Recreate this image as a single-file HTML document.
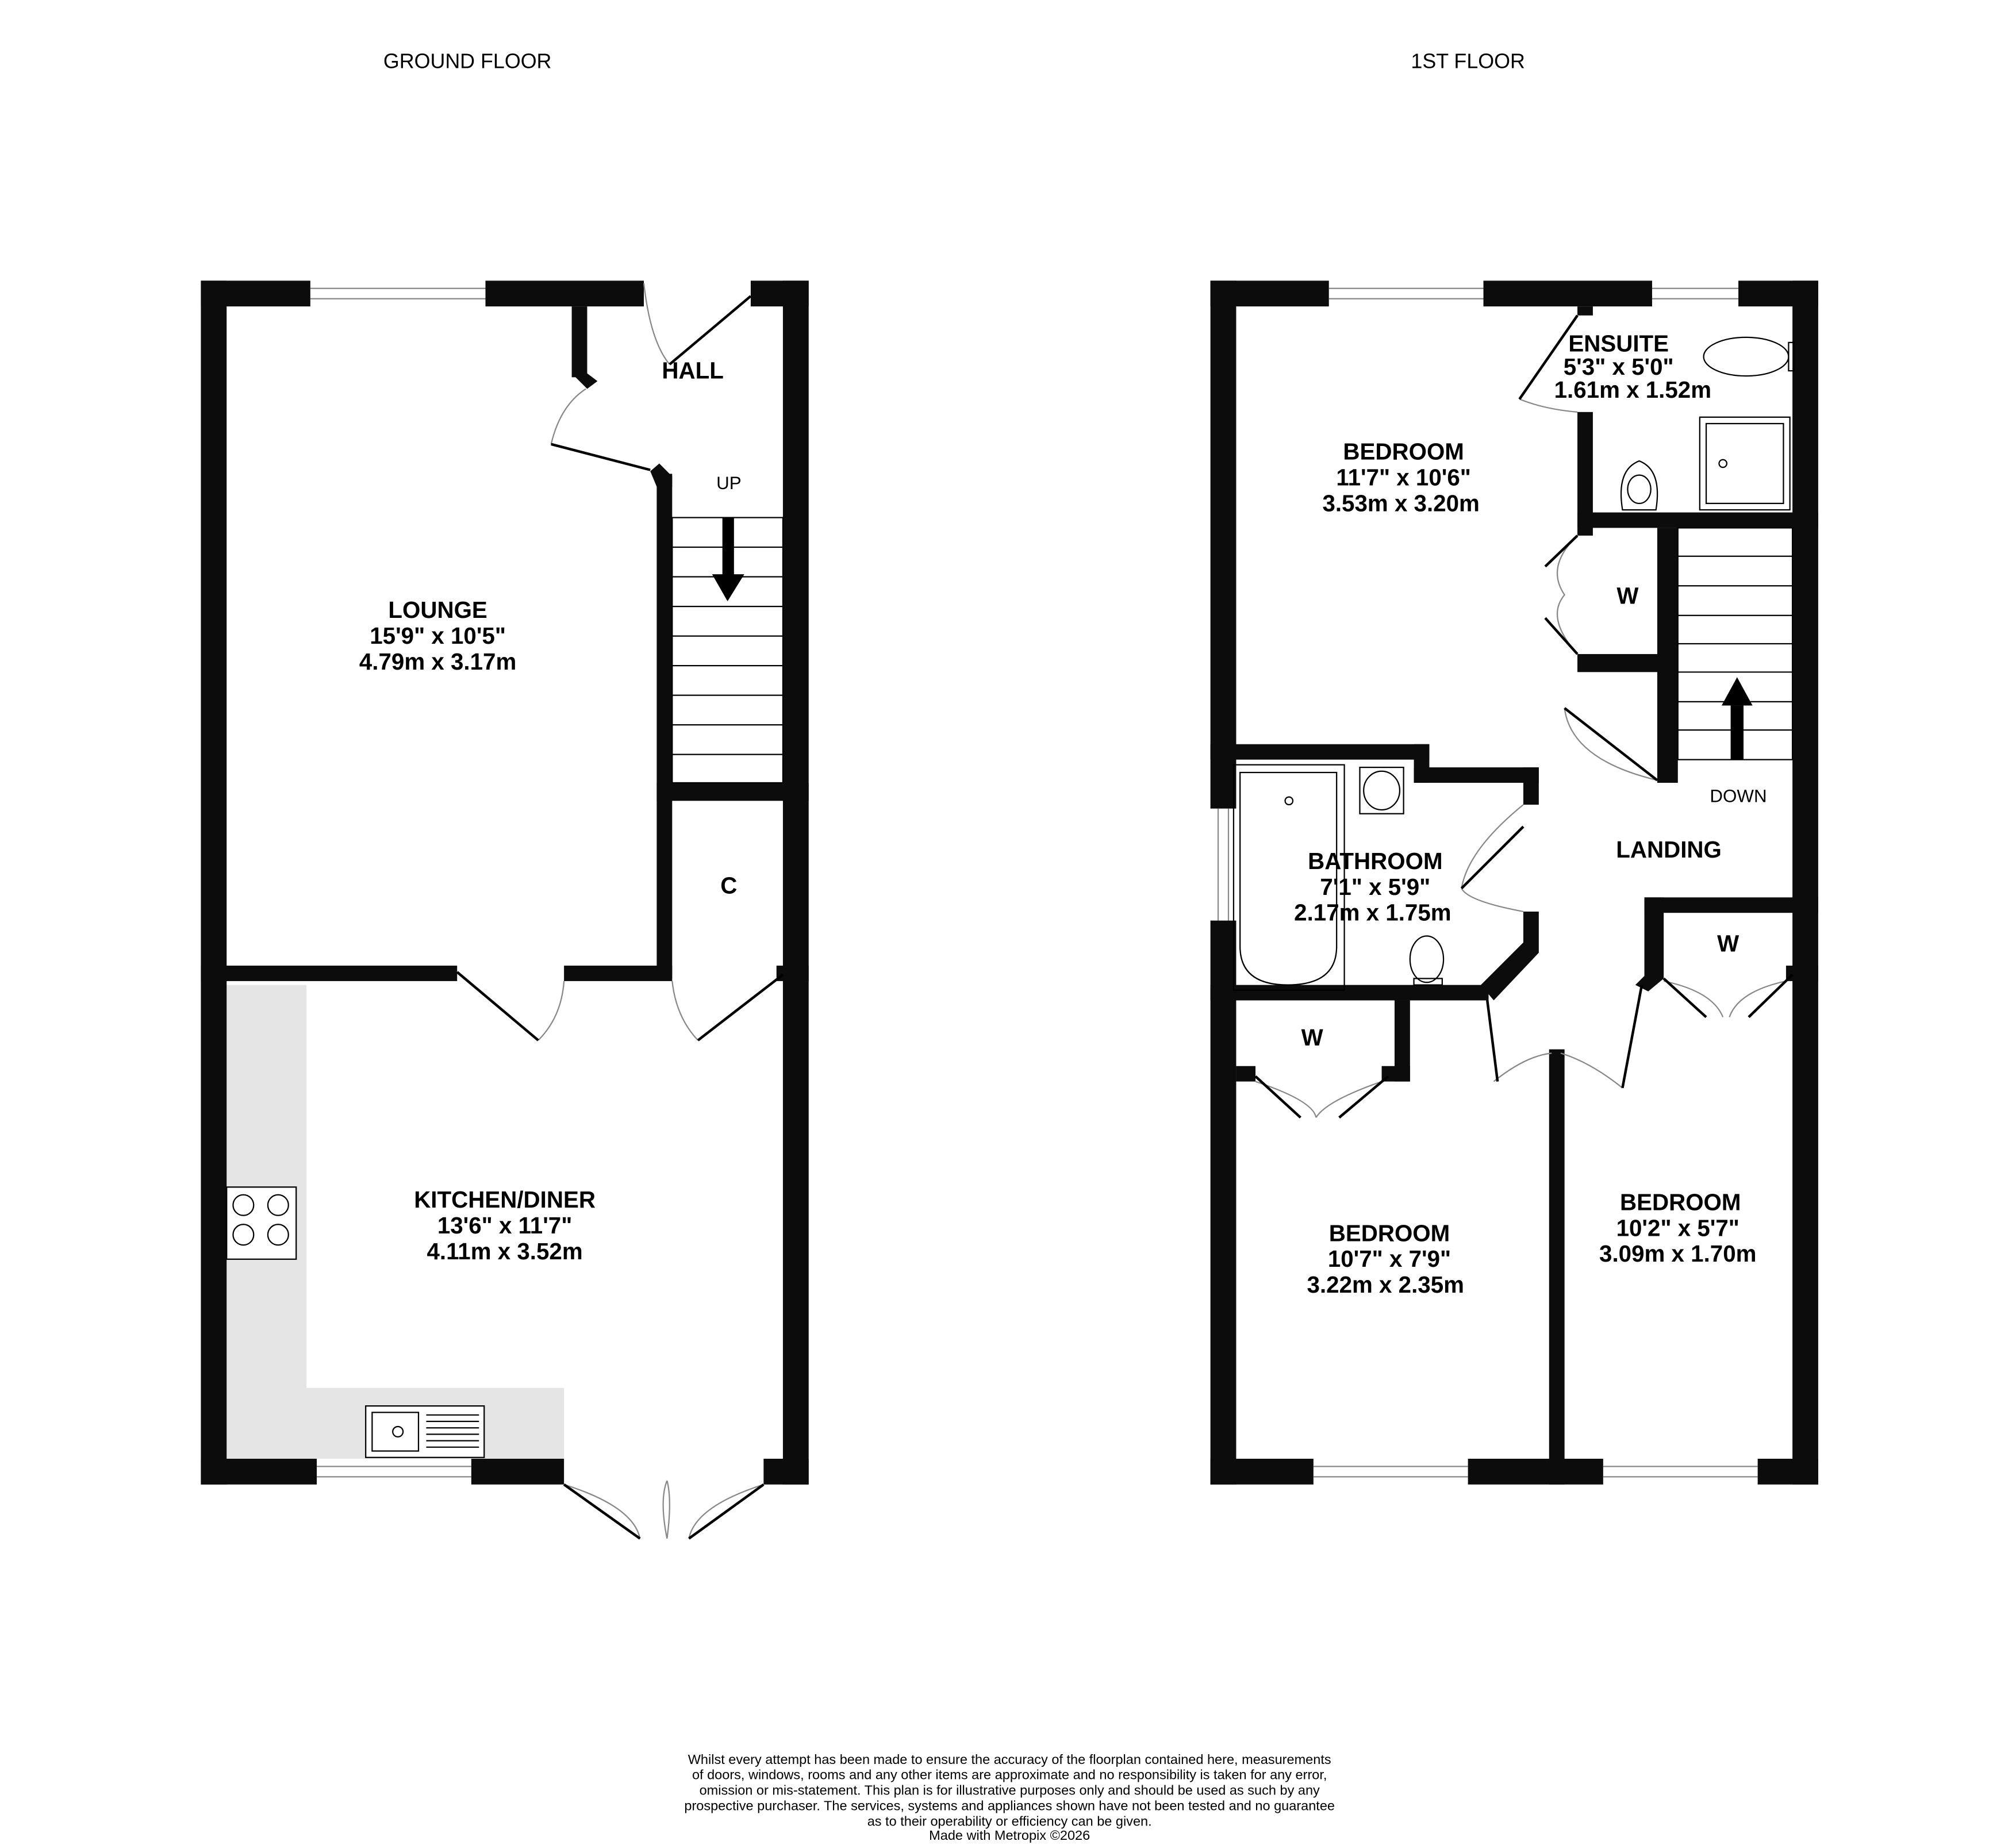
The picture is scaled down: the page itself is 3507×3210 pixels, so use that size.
<!DOCTYPE html>
<html><head><meta charset="utf-8"><style>html,body{margin:0;padding:0;background:#fff}svg{display:block}</style></head>
<body>
<svg width="3507" height="3210" viewBox="0 0 1565.6 1433" xmlns="http://www.w3.org/2000/svg" font-family="Liberation Sans, sans-serif">
<rect width="1565.6" height="1433" fill="#fff"/>
<text x="363" y="53" font-size="16" text-anchor="middle">GROUND FLOOR</text>
<text x="1140" y="53" font-size="16" text-anchor="middle">1ST FLOOR</text>

<!-- GROUND FLOOR -->
<rect x="176" y="765" width="62" height="368" fill="#e5e5e5"/>
<rect x="176" y="1078" width="262" height="55" fill="#e5e5e5"/>
<g fill="#0c0c0c">
<rect x="156" y="218" width="85" height="20"/><rect x="377" y="218" width="123" height="20"/><rect x="583" y="218" width="45" height="20"/>
<rect x="156" y="218" width="20" height="935"/><rect x="608" y="218" width="20" height="935"/>
<rect x="156" y="1133" width="90" height="20"/><rect x="366" y="1133" width="72" height="20"/><rect x="593" y="1133" width="35" height="20"/>
<rect x="444" y="238" width="12" height="55"/><polygon points="444,290 456,290 464,296 456,302"/>
<rect x="510" y="368" width="12" height="392"/><polygon points="505,366 512,360 522,370 522,378 510,378"/>
<rect x="510" y="608" width="118" height="14"/>
<rect x="156" y="750" width="199" height="12"/><rect x="438" y="750" width="84" height="12"/>
<rect x="603" y="750" width="25" height="12"/>
</g>
<g stroke="#888" fill="none" stroke-width="1">
<line x1="241" y1="224" x2="377" y2="224"/><line x1="241" y1="232" x2="377" y2="232"/>
<line x1="246" y1="1139" x2="366" y2="1139"/><line x1="246" y1="1147" x2="366" y2="1147"/>
<path d="M500,220 Q505,265 520,283"/><path d="M428,345 Q435,315 455,302"/>
<path d="M438,762 Q436,790 418,808"/><path d="M522,762 Q525,790 542,808"/>
<path d="M438,1153 Q492,1170 497,1195"/><path d="M593,1153 Q540,1170 535,1195"/>
<path d="M518,1195 Q512,1165 518,1150"/><path d="M518,1195 Q522,1165 518,1150"/>
</g>
<g stroke="#000" fill="none" stroke-width="2">
<line x1="520" y1="283" x2="583" y2="230"/><line x1="428" y1="345" x2="505" y2="365"/>
<line x1="355" y1="755" x2="418" y2="808"/><line x1="608" y1="757" x2="542" y2="808"/>
<line x1="438" y1="1153" x2="497" y2="1195"/><line x1="593" y1="1153" x2="535" y2="1195"/>
</g>
<g stroke="#000" stroke-width="1" fill="none">
<rect x="522" y="402" width="86" height="206"/>
<line x1="522" y1="425" x2="608" y2="425"/><line x1="522" y1="448" x2="608" y2="448"/><line x1="522" y1="471" x2="608" y2="471"/><line x1="522" y1="494" x2="608" y2="494"/><line x1="522" y1="517" x2="608" y2="517"/><line x1="522" y1="540" x2="608" y2="540"/><line x1="522" y1="563" x2="608" y2="563"/><line x1="522" y1="586" x2="608" y2="586"/>
<rect x="176" y="922" width="54" height="56" fill="#fff"/>
<circle cx="189" cy="936" r="8"/><circle cx="216" cy="936" r="8"/><circle cx="189" cy="959" r="8"/><circle cx="216" cy="959" r="8"/>
<rect x="284" y="1092" width="92" height="40" fill="#fff"/><rect x="289" y="1097" width="36" height="30"/>
<circle cx="309" cy="1112" r="4"/>
</g>
<g stroke="#000" stroke-width="1"><line x1="331" y1="1099" x2="372" y2="1099"/><line x1="331" y1="1104" x2="372" y2="1104"/><line x1="331" y1="1109" x2="372" y2="1109"/><line x1="331" y1="1114" x2="372" y2="1114"/><line x1="331" y1="1119" x2="372" y2="1119"/><line x1="331" y1="1124" x2="372" y2="1124"/></g>
<rect x="561" y="402" width="9" height="46" fill="#000"/><polygon points="553,446 578,446 565,467" fill="#000"/>
<g font-weight="bold" font-size="18" text-anchor="middle">
<text x="538" y="294">HALL</text>
<text x="340" y="480">LOUNGE</text><text x="340" y="500">15'9"  x 10'5"</text><text x="340" y="520">4.79m  x 3.17m</text>
<text x="566" y="694">C</text>
<text x="392" y="938">KITCHEN/DINER</text><text x="392" y="958">13'6"  x 11'7"</text><text x="392" y="978">4.11m  x 3.52m</text>
</g>
<text x="566" y="380" font-size="14" text-anchor="middle">UP</text>

<!-- FIRST FLOOR -->
<g fill="#0c0c0c">
<rect x="940" y="218" width="92" height="20"/><rect x="1152" y="218" width="131" height="20"/><rect x="1350" y="218" width="62" height="20"/>
<rect x="940" y="218" width="20" height="410"/><rect x="940" y="715" width="20" height="438"/>
<rect x="1392" y="218" width="20" height="935"/>
<rect x="940" y="1133" width="80" height="20"/><rect x="1140" y="1133" width="105" height="20"/><rect x="1365" y="1133" width="47" height="20"/>
<rect x="1225" y="238" width="12" height="7"/><rect x="1225" y="320" width="12" height="90"/>
<rect x="1225" y="398" width="187" height="12"/>
<rect x="1225" y="410" width="12" height="6"/><rect x="1225" y="508" width="67" height="14"/>
<rect x="1287" y="410" width="16" height="198"/>
<rect x="940" y="578" width="170" height="12"/><rect x="1098" y="578" width="12" height="30"/><rect x="1098" y="596" width="97" height="12"/>
<rect x="1183" y="596" width="12" height="29"/>
<polygon points="1183,708 1195,708 1195,740 1160,777 1150,765 1183,732"/>
<rect x="940" y="765" width="216" height="12"/>
<rect x="1083" y="777" width="12" height="63"/><rect x="1073" y="828" width="22" height="12"/><rect x="960" y="828" width="15" height="12"/>
<rect x="1203" y="815" width="12" height="338"/>
<rect x="1277" y="697" width="135" height="12"/><rect x="1277" y="697" width="15" height="63"/><polygon points="1270,765 1280,755 1292,760 1280,770"/>
<rect x="1387" y="750" width="25" height="12"/>
</g>
<g stroke="#888" fill="none" stroke-width="1">
<line x1="1032" y1="224" x2="1152" y2="224"/><line x1="1032" y1="232" x2="1152" y2="232"/>
<line x1="1283" y1="224" x2="1350" y2="224"/><line x1="1283" y1="232" x2="1350" y2="232"/>
<line x1="946" y1="628" x2="946" y2="715"/><line x1="954" y1="628" x2="954" y2="715"/>
<line x1="1020" y1="1139" x2="1140" y2="1139"/><line x1="1020" y1="1147" x2="1140" y2="1147"/>
<line x1="1245" y1="1139" x2="1365" y2="1139"/><line x1="1245" y1="1147" x2="1365" y2="1147"/>
<path d="M1180,310 Q1200,318 1225,320"/>
<path d="M1287,606 Q1220,590 1215,550"/>
<path d="M1183,625 Q1140,660 1135,690"/><path d="M1183,708 Q1140,700 1135,690"/>
<path d="M1225,416 Q1200,440 1215,462 Q1200,480 1225,508"/>
<path d="M975,840 Q1020,855 1022,868 M1073,840 Q1030,855 1022,868"/>
<path d="M1160,840 Q1185,820 1205,818 M1260,845 Q1235,825 1212,818"/>
<path d="M1292,762 Q1330,770 1338,790 M1387,762 Q1350,770 1343,790"/>
</g>
<g stroke="#000" fill="none" stroke-width="2">
<line x1="1180" y1="310" x2="1225" y2="245"/>
<line x1="1215" y1="550" x2="1287" y2="606"/>
<line x1="1135" y1="690" x2="1183" y2="642"/>
<line x1="1225" y1="416" x2="1200" y2="440"/><line x1="1200" y1="480" x2="1225" y2="508"/>
<line x1="975" y1="836" x2="1010" y2="868"/><line x1="1078" y1="836" x2="1040" y2="868"/>
<line x1="1155" y1="777" x2="1163" y2="840"/><line x1="1275" y1="765" x2="1260" y2="845"/>
<line x1="1292" y1="760" x2="1325" y2="790"/><line x1="1392" y1="757" x2="1358" y2="790"/>
</g>
<g stroke="#000" stroke-width="1" fill="none">
<rect x="1303" y="410" width="89" height="180"/>
<line x1="1303" y1="432" x2="1392" y2="432"/><line x1="1303" y1="455" x2="1392" y2="455"/><line x1="1303" y1="478" x2="1392" y2="478"/><line x1="1303" y1="500" x2="1392" y2="500"/><line x1="1303" y1="522" x2="1392" y2="522"/><line x1="1303" y1="545" x2="1392" y2="545"/><line x1="1303" y1="567" x2="1392" y2="567"/>
<rect x="958" y="594" width="86" height="175"/>
<path d="M963,600 L1038,600 L1038,735 Q1038,765 1000,765 Q963,765 963,735 Z"/>
<circle cx="1001" cy="622" r="3"/>
<rect x="1056" y="596" width="34" height="36"/><ellipse cx="1073" cy="614" rx="14" ry="15"/>
<ellipse cx="1108" cy="745" rx="13" ry="18"/>
<rect x="1098" y="760" width="22" height="5"/>
<ellipse cx="1356" cy="277" rx="33" ry="15"/><rect x="1389" y="266" width="4" height="22"/>
<rect x="1320" y="324" width="70" height="72"/><rect x="1325" y="329" width="60" height="62"/><circle cx="1338" cy="360" r="3"/>
<path d="M1260,396 Q1255,365 1273,358 Q1291,365 1286,396 Z"/><ellipse cx="1273" cy="380" rx="9" ry="11"/>
</g>
<rect x="1344" y="548" width="10" height="42" fill="#000"/><polygon points="1337,548 1361,548 1349,526" fill="#000"/>
<g font-weight="bold" font-size="18" text-anchor="middle">
<text x="1257" y="273">ENSUITE</text><text x="1257" y="291">5'3"  x 5'0"</text><text x="1268" y="309">1.61m  x 1.52m</text>
<text x="1090" y="357">BEDROOM</text><text x="1090" y="377">11'7"  x 10'6"</text><text x="1088" y="397">3.53m  x 3.20m</text>
<text x="1264" y="469">W</text>
<text x="1296" y="666">LANDING</text>
<text x="1068" y="675">BATHROOM</text><text x="1068" y="695">7'1"  x 5'9"</text><text x="1066" y="715">2.17m  x 1.75m</text>
<text x="1342" y="739">W</text>
<text x="1019" y="812">W</text>
<text x="1079" y="964">BEDROOM</text><text x="1079" y="984">10'7"  x 7'9"</text><text x="1076" y="1004">3.22m  x 2.35m</text>
<text x="1305" y="940">BEDROOM</text><text x="1303" y="960">10'2"  x 5'7"</text><text x="1303" y="980">3.09m  x 1.70m</text>
</g>
<text x="1350" y="623" font-size="14" text-anchor="middle">DOWN</text>

<g font-size="10.5" text-anchor="middle">
<text x="784" y="1370">Whilst every attempt has been made to ensure the accuracy of the floorplan contained here, measurements</text>
<text x="784" y="1382">of doors, windows, rooms and any other items are approximate and no responsibility is taken for any error,</text>
<text x="784" y="1394">omission or mis-statement. This plan is for illustrative purposes only and should be used as such by any</text>
<text x="784" y="1406">prospective purchaser. The services, systems and appliances shown have not been tested and no guarantee</text>
<text x="784" y="1418">as to their operability or efficiency can be given.</text>
<text x="784" y="1429">Made with Metropix ©2026</text>
</g>
</svg>
</body></html>
